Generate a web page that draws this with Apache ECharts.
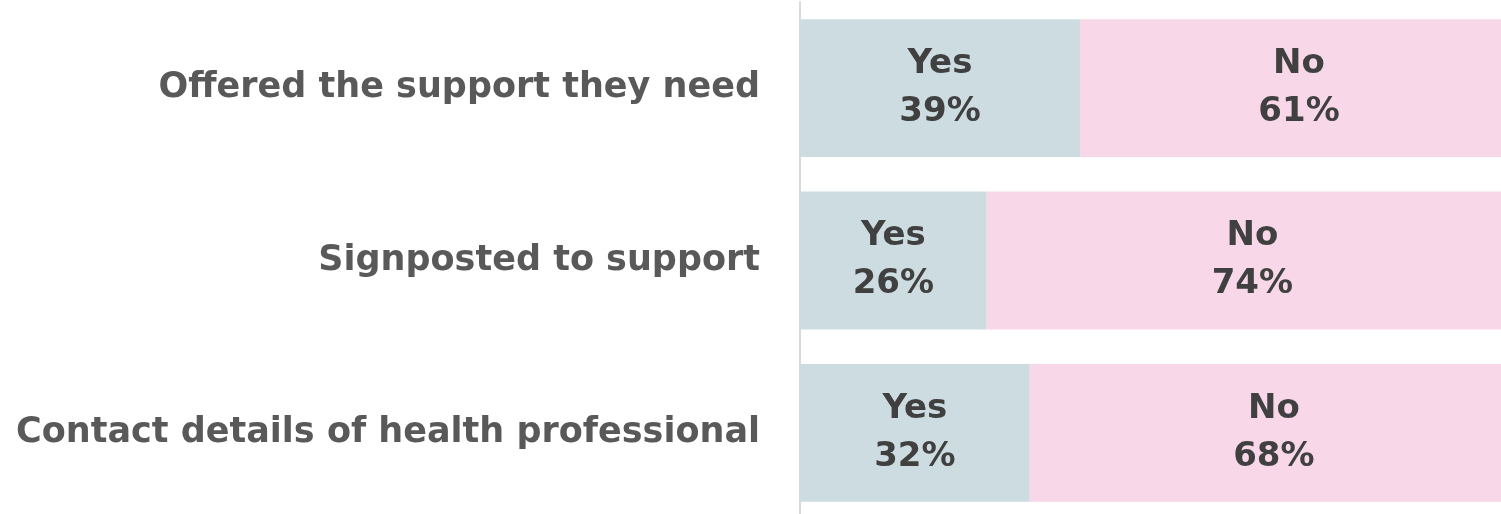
<!DOCTYPE html>
<html>
<head>
<meta charset="utf-8">
<script src="https://cdn.jsdelivr.net/npm/echarts@6/dist/echarts.min.js"></script>
<style>
  html, body { margin: 0; padding: 0; background: #fff; }
  #chart { width: 1501px; height: 514px; }
</style>
</head>
<body>
<div id="chart"></div>
<script>
var categories = ['Offered the support they need', 'Signposted to support', 'Contact details of health professional'];
var yesValues = [39, 26, 32];
var noValues = [61, 74, 68];

var chart = echarts.init(document.getElementById('chart'));

// label inside each bar: series name on top, percentage below
var barLabel = {
  show: true,
  position: 'inside',
  formatter: '{a}\n{c}%',
  fontFamily: 'DejaVu Sans',
  fontWeight: 'bold',
  fontSize: 34,
  lineHeight: 48,
  color: '#404040'
};

chart.setOption({
  animation: false,
  // bars run past the right edge of the picture, as in the original
  grid: { left: 800, width: 718, top: 2, height: 517, containLabel: false, outerBoundsMode: 'none' },
  xAxis: { type: 'value', min: 0, max: 100, show: false },
  yAxis: {
    type: 'category',
    inverse: true,
    data: categories,
    axisTick: { show: false },
    axisLine: { show: true, lineStyle: { color: '#d9d9d9', width: 2 } },
    axisLabel: {
      margin: 40,
      fontFamily: 'DejaVu Sans',
      fontWeight: 'bold',
      fontSize: 35,
      color: '#595959'
    }
  },
  series: [
    {
      name: 'Yes',
      type: 'bar',
      stack: 'all',
      barWidth: '80%',
      data: yesValues,
      itemStyle: { color: '#CDDCE1' },
      label: barLabel
    },
    {
      name: 'No',
      type: 'bar',
      stack: 'all',
      barWidth: '80%',
      data: noValues,
      itemStyle: { color: '#F8D7E8' },
      label: barLabel
    }
  ]
});
</script>
</body>
</html>
